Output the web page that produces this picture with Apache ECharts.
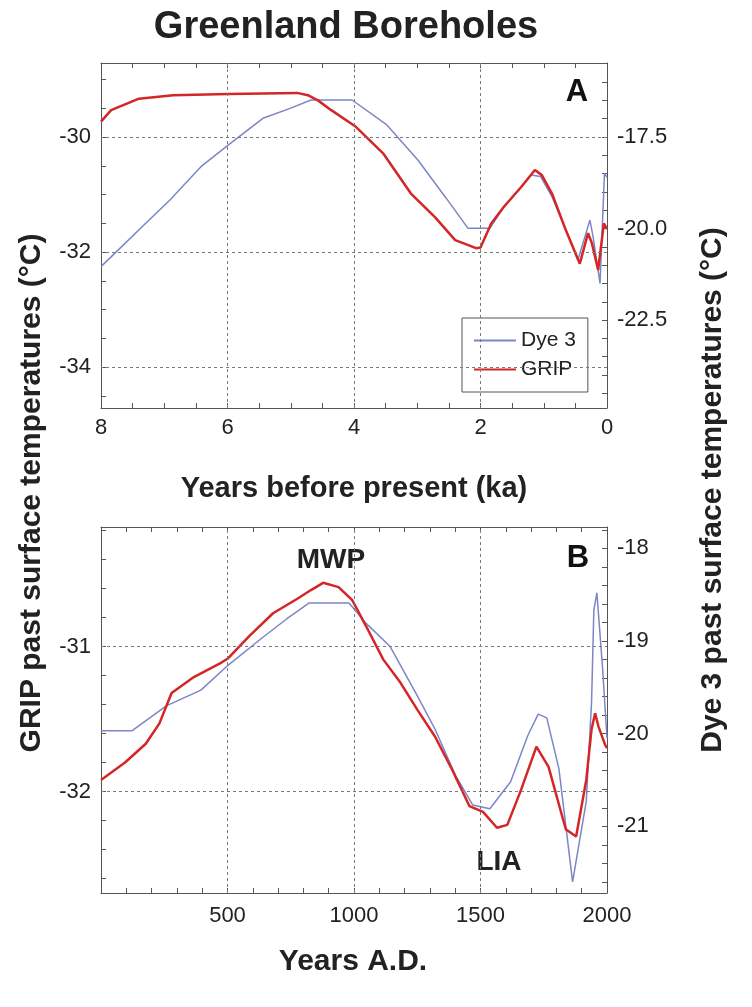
<!DOCTYPE html>
<html>
<head>
<meta charset="utf-8">
<script src="https://cdn.jsdelivr.net/npm/echarts@6/dist/echarts.min.js"></script>
<style>
html,body{margin:0;padding:0;background:#fff;}
#chart{width:752px;height:1007px;}
</style>
</head>
<body>
<div id="chart"></div>
<script>
// ---------- Panel A data (years before present, ka) ----------
const A_ka_grip = [8, 7.84, 7.4, 6.86, 5.99, 4.9, 4.73, 4.57, 4.36, 3.97, 3.54, 3.10, 2.72, 2.4, 2.07, 2.0, 1.83, 1.63, 1.36, 1.14, 1.03, 0.87, 0.65, 0.43, 0.30, 0.24, 0.14, 0.05, 0];
const A_grip    = [-29.73, -29.53, -29.33, -29.27, -29.25, -29.23, -29.27, -29.36, -29.53, -29.82, -30.28, -30.98, -31.39, -31.79, -31.93, -31.92, -31.5, -31.21, -30.87, -30.57, -30.66, -30.98, -31.62, -32.2, -31.67, -31.84, -32.31, -31.5, -31.6];
const A_ka_dye  = [8, 7.73, 7.35, 6.91, 6.42, 5.99, 5.44, 5.01, 4.68, 4.03, 3.48, 2.99, 2.56, 2.2, 1.85, 1.63, 1.36, 1.2, 1.05, 0.87, 0.65, 0.46, 0.27, 0.22, 0.11, 0.04, 0];
const A_dye     = [-21.04, -20.59, -19.95, -19.22, -18.31, -17.72, -16.99, -16.72, -16.49, -16.49, -17.17, -18.13, -19.13, -19.99, -19.99, -19.41, -18.87, -18.54, -18.58, -19.13, -20.04, -20.86, -19.77, -20.22, -21.5, -18.49, -18.6];

// ---------- Panel B data (years A.D.) ----------
const B_yr_grip = [0, 95, 177, 231, 279, 367, 476, 503, 585, 680, 776, 830, 878, 939, 993, 1048, 1116, 1184, 1252, 1320, 1388, 1456, 1510, 1565, 1606, 1660, 1721, 1769, 1837, 1878, 1918, 1939, 1953, 1966, 1993, 2000];
const B_grip    = [-31.92, -31.80, -31.67, -31.53, -31.32, -31.21, -31.11, -31.08, -30.93, -30.77, -30.67, -30.61, -30.56, -30.59, -30.68, -30.86, -31.09, -31.25, -31.44, -31.62, -31.85, -32.10, -32.14, -32.25, -32.23, -31.99, -31.69, -31.83, -32.26, -32.31, -31.92, -31.57, -31.46, -31.55, -31.68, -31.70];
const B_yr_dye  = [0, 122, 258, 395, 503, 640, 735, 823, 980, 1048, 1143, 1252, 1320, 1401, 1469, 1537, 1619, 1687, 1728, 1762, 1810, 1864, 1918, 1939, 1948, 1960, 1983, 2000];
const B_dye     = [-19.97, -19.97, -19.70, -19.53, -19.26, -18.96, -18.76, -18.59, -18.59, -18.81, -19.06, -19.60, -19.95, -20.45, -20.77, -20.81, -20.52, -20.02, -19.79, -19.83, -20.38, -21.6, -20.73, -19.66, -18.67, -18.48, -19.31, -20.05];

// ---------- Axis ranges, ticks and tick labels ----------
const A_xRange = [0, 8];
const A_xTicks = [0.5, 1, 1.5, 2, 2.5, 3, 3.5, 4, 4.5, 5, 5.5, 6, 6.5, 7, 7.5];
const A_xLabels = [8, 6, 4, 2, 0];
const A_xGrid = [6, 4, 2];
const A_yGrid = [-34, -32, -30];
const A_leftRange = [-34.71, -28.71];
const A_leftTicks = [-34.5, -34, -33.5, -33, -32.5, -32, -31.5, -31, -30.5, -30, -29.5, -29];
const A_leftLabels = [-34, -32, -30];
const A_rightRange = [-24.9, -15.48];
const A_rightTicks = [-24.5, -24, -23.5, -23, -22.5, -22, -21.5, -21, -20.5, -20, -19.5, -19, -18.5, -18, -17.5, -17, -16.5, -16, -15.5];
const A_rightLabels = [-22.5, -20, -17.5];

const B_xRange = [0, 2000];
const B_xTicks = [100, 200, 300, 400, 500, 600, 700, 800, 900, 1000, 1100, 1200, 1300, 1400, 1500, 1600, 1700, 1800, 1900];
const B_xLabels = [500, 1000, 1500, 2000];
const B_xGrid = [500, 1000, 1500];
const B_yGrid = [-32, -31];
const B_leftRange = [-32.70, -30.175];
const B_leftTicks = [-32.6, -32.4, -32.2, -32, -31.8, -31.6, -31.4, -31.2, -31, -30.8, -30.6, -30.4, -30.2];
const B_leftLabels = [-32, -31];
const B_rightRange = [-21.72, -17.77];
const B_rightTicks = [-21.6, -21.4, -21.2, -21, -20.8, -20.6, -20.4, -20.2, -20, -19.8, -19.6, -19.4, -19.2, -19, -18.8, -18.6, -18.4, -18.2, -18, -17.8];
const B_rightLabels = [-21, -20, -19, -18];

const FONT = "'Liberation Sans', Arial, Helvetica, sans-serif";
const BLUE = '#7c86c6';
const RED = '#d42626';
const FRAME = '#555';
const TXT = '#222';
const TICKFONT = 22;

function zip(xs, ys) { return xs.map((x, i) => [x, ys[i]]); }

function xAx(gridIndex, range, ticks, labels, pos, inverse, margin, showLabels) {
  return {
    type: 'value', gridIndex, min: range[0], max: range[1], position: pos, inverse,
    axisLine: { show: true, onZero: false, lineStyle: { color: FRAME, width: 1 } },
    axisTick: { show: true, inside: true, length: 5, customValues: ticks, lineStyle: { color: FRAME } },
    axisLabel: { show: showLabels, customValues: labels, margin, fontFamily: FONT, fontSize: TICKFONT, color: TXT,
                 formatter: v => String(v) },
    splitLine: { show: false }
  };
}
function yAx(gridIndex, range, ticks, labels, pos, fmt, showLabels) {
  return {
    type: 'value', gridIndex, min: range[0], max: range[1], position: pos,
    axisLine: { show: true, onZero: false, lineStyle: { color: FRAME, width: 1 } },
    axisTick: { show: true, inside: true, length: 5, customValues: ticks, lineStyle: { color: FRAME } },
    axisLabel: { show: showLabels, customValues: labels, margin: 10, fontFamily: FONT, fontSize: TICKFONT, color: TXT,
                 formatter: fmt },
    splitLine: { show: false }
  };
}
const gridLineStyle = { color: '#7a7a7a', width: 1, type: [3, 3] };
function gridSeries(xi, yi, xs, ys) {
  return {
    type: 'line', xAxisIndex: xi, yAxisIndex: yi, data: [], silent: true,
    markLine: {
      silent: true, symbol: ['none', 'none'], label: { show: false }, animation: false,
      lineStyle: gridLineStyle,
      data: xs.map(v => ({ xAxis: v })).concat(ys.map(v => ({ yAxis: v })))
    }
  };
}

const chart = echarts.init(document.getElementById('chart'), null, { renderer: 'canvas' });
chart.setOption({
  animation: false,
  backgroundColor: '#fff',
  grid: [
    { left: 101, top: 63, width: 506, height: 345 },
    { left: 101, top: 527, width: 506, height: 366 }
  ],
  xAxis: [
    xAx(0, A_xRange, A_xTicks, A_xLabels, 'bottom', true, 9, true),
    xAx(0, A_xRange, A_xTicks, A_xLabels, 'top', true, 9, false),
    xAx(1, B_xRange, B_xTicks, B_xLabels, 'bottom', false, 12, true),
    xAx(1, B_xRange, B_xTicks, B_xLabels, 'top', false, 12, false)
  ],
  yAxis: [
    yAx(0, A_leftRange, A_leftTicks, A_leftLabels, 'left', v => String(v), true),
    yAx(0, A_rightRange, A_rightTicks, A_rightLabels, 'right', v => v.toFixed(1), true),
    yAx(1, B_leftRange, B_leftTicks, B_leftLabels, 'left', v => String(v), true),
    yAx(1, B_rightRange, B_rightTicks, B_rightLabels, 'right', v => String(v), true)
  ],
  legend: {
    show: true, data: ['Dye 3', 'GRIP'], orient: 'vertical',
    left: 462, top: 318, padding: [12, 12, 12, 11], itemGap: 8,
    itemWidth: 42, itemHeight: 14,
    itemStyle: { opacity: 0 },
    borderColor: FRAME, borderWidth: 1, backgroundColor: '#fff',
    textStyle: { fontFamily: FONT, fontSize: 21, color: TXT },
    selectedMode: false
  },
  series: [
    gridSeries(0, 0, A_xGrid, A_yGrid),
    gridSeries(2, 2, B_xGrid, B_yGrid),
    { name: 'Dye 3', type: 'line', xAxisIndex: 0, yAxisIndex: 1, data: zip(A_ka_dye, A_dye),
      symbol: 'none', lineStyle: { color: BLUE, width: 1.5 }, itemStyle: { color: BLUE } },
    { name: 'GRIP', type: 'line', xAxisIndex: 0, yAxisIndex: 0, data: zip(A_ka_grip, A_grip),
      symbol: 'none', lineStyle: { color: RED, width: 2.5 }, itemStyle: { color: RED } },
    { name: 'Dye 3', type: 'line', xAxisIndex: 2, yAxisIndex: 3, data: zip(B_yr_dye, B_dye),
      symbol: 'none', lineStyle: { color: BLUE, width: 1.5 }, itemStyle: { color: BLUE } },
    { name: 'GRIP', type: 'line', xAxisIndex: 2, yAxisIndex: 2, data: zip(B_yr_grip, B_grip),
      symbol: 'none', lineStyle: { color: RED, width: 2.5 }, itemStyle: { color: RED } }
  ],
  graphic: [
    { type: 'text', x: 346, y: 28, style: { text: 'Greenland Boreholes', font: "bold 38px " + FONT, fill: TXT, align: 'center', verticalAlign: 'middle' } },
    { type: 'text', x: 354, y: 489, style: { text: 'Years before present (ka)', font: "bold 29px " + FONT, fill: TXT, align: 'center', verticalAlign: 'middle' } },
    { type: 'text', x: 353, y: 962, style: { text: 'Years A.D.', font: "bold 30px " + FONT, fill: TXT, align: 'center', verticalAlign: 'middle' } },
    { type: 'text', x: 32, y: 493, rotation: Math.PI / 2, style: { text: 'GRIP past surface temperatures (°C)', font: "bold 30px " + FONT, fill: TXT, align: 'center', verticalAlign: 'middle' } },
    { type: 'text', x: 713, y: 490, rotation: Math.PI / 2, style: { text: 'Dye 3 past surface temperatures (°C)', font: "bold 30px " + FONT, fill: TXT, align: 'center', verticalAlign: 'middle' } },
    { type: 'text', x: 577, y: 92, style: { text: 'A', font: "bold 31px " + FONT, fill: '#111', align: 'center', verticalAlign: 'middle' } },
    { type: 'text', x: 578, y: 558, style: { text: 'B', font: "bold 31px " + FONT, fill: '#111', align: 'center', verticalAlign: 'middle' } },
    { type: 'text', x: 331, y: 560, style: { text: 'MWP', font: "bold 28px " + FONT, fill: TXT, align: 'center', verticalAlign: 'middle' } },
    { type: 'text', x: 499, y: 862, style: { text: 'LIA', font: "bold 28px " + FONT, fill: TXT, align: 'center', verticalAlign: 'middle' } }
  ]
});
</script>
</body>
</html>
